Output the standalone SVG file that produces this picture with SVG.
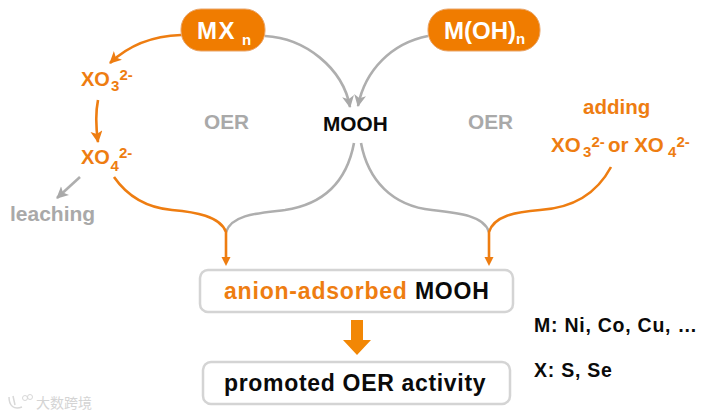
<svg xmlns="http://www.w3.org/2000/svg" width="708" height="417" viewBox="0 0 708 417">
<style>
text{font-family:"Liberation Sans",Arial,sans-serif;font-weight:bold}
.o{fill:#ee7d11}.g{fill:#a9a9a9}.k{fill:#0a0a0a}.w{fill:#fff}
.co{fill:none;stroke:#ee7d11;stroke-width:2.6}
.cg{fill:none;stroke:#aeaeae;stroke-width:2.6}
.pill{fill:#f07c00;stroke:#e9a468;stroke-width:1}
.box{fill:#fff;stroke:#d4d4d4;stroke-width:2.5}
.s{font-size:15px}
</style>
<defs>
<marker id="ao" markerUnits="userSpaceOnUse" markerWidth="14" markerHeight="14" refX="11" refY="6" orient="auto"><path d="M0 0L12 6L0 12L3 6Z" fill="#ee7d11"/></marker>
<marker id="ag" markerUnits="userSpaceOnUse" markerWidth="14" markerHeight="14" refX="11" refY="6" orient="auto"><path d="M0 0L12 6L0 12L3 6Z" fill="#a9a9a9"/></marker>
</defs>
<g id="connectors">
<path class="co" marker-end="url(#ao)" d="M181 35C150 36 128 46 110 63"/>
<path class="cg" marker-end="url(#ag)" d="M265 36C305 38 343 68 350 107"/>
<path class="cg" marker-end="url(#ag)" d="M428 36C392 43 365 70 358 106"/>
<path class="co" marker-end="url(#ao)" d="M98 100C95 115 96 128 98 142"/>
<path class="cg" marker-end="url(#ag)" d="M80 177L57 198"/>
<path class="cg" d="M354 143C347 180 325 204 285 210C260 213 232 214 226 232"/>
<path class="co" d="M114 177C130 200 150 208 172 210C195 212 220 216 226 232L226 258"/>
<path class="cg" d="M361 143C368 180 392 206 432 210C460 213 484 216 489 232"/>
<path class="co" d="M611 167C596 195 572 208 540 210C515 212 494 216 489 232L489 258"/>
<path d="M221.500 257L230.500 257L226 266Z" class="o"/>
<path d="M484.500 257L493.500 257L489 266Z" class="o"/>
<path d="M351 320H363V340H371L357 355L343 340H351Z" fill="#f28705"/>
</g>
<g id="node-mxn">
<rect class="pill" x="181" y="9" width="84" height="42" rx="20"/>
<text class="w" x="197" y="39" font-size="24" letter-spacing="1.500">MX</text><text class="w" x="242" y="45" font-size="15">n</text>
</g>
<g id="node-moh">
<rect class="pill" x="428" y="9" width="112" height="42" rx="20"/>
<text class="w" x="444" y="39" font-size="24">M(OH)<tspan font-size="15" dy="5">n</tspan></text>
</g>
<g id="node-xo3"><text class="o" x="81" y="86" font-size="20">XO</text><text class="o s" x="111" y="91">3</text><text class="o s" x="119.500" y="80">2-</text></g>
<g id="node-xo4"><text class="o" x="81" y="164" font-size="20">XO</text><text class="o s" x="110.500" y="171">4</text><text class="o s" x="119" y="158">2-</text></g>
<g id="node-leaching"><text class="g" x="10" y="221" font-size="21">leaching</text></g>
<g id="node-oer-left"><text class="g" x="204" y="129" font-size="20.800">OER</text></g>
<g id="node-oer-right"><text class="g" x="468" y="129" font-size="20.800">OER</text></g>
<g id="node-mooh"><text class="k" x="323" y="131" font-size="20.800">MOOH</text></g>
<g id="node-adding">
<text class="o" x="583" y="114" font-size="20.500">adding</text>
<text class="o" x="551" y="152" font-size="20.500">XO</text><text class="o s" x="583" y="157">3</text><text class="o s" x="591.500" y="147">2-</text>
<text class="o" x="608" y="152" font-size="20.500">or XO</text><text class="o s" x="668" y="157">4</text><text class="o s" x="676.500" y="147">2-</text>
</g>
<g id="node-anion">
<rect class="box" x="200" y="270" width="313" height="42" rx="8"/>
<text x="224" y="299" font-size="23" letter-spacing="0.800"><tspan class="o">anion-adsorbed</tspan><tspan class="k"> MOOH</tspan></text>
</g>
<g id="node-promoted">
<rect class="box" x="203" y="362" width="307" height="42" rx="8"/>
<text class="k" x="224" y="391" font-size="23" letter-spacing="0.680">promoted OER activity</text>
</g>
<g id="legend">
<text class="k" x="534" y="332" font-size="19.500" letter-spacing="0.750">M: Ni, Co, Cu, …</text>
<text class="k" x="534" y="377" font-size="19.500" letter-spacing="0.750">X: S, Se</text>
</g>
<g id="watermark">
<path d="M9 397C9 406 14 410 22 407M13 396L15 405" fill="none" stroke="#d8d8d8" stroke-width="1.500"/>
<circle cx="25" cy="398" r="2.500" fill="none" stroke="#d8d8d8"/><circle cx="30" cy="397" r="2.500" fill="none" stroke="#d8d8d8"/>
<text x="36" y="408" font-size="14" fill="#d4d4d4" style="font-family:'Noto Sans CJK SC',sans-serif;font-weight:normal">大数跨境</text>
</g>
</svg>
